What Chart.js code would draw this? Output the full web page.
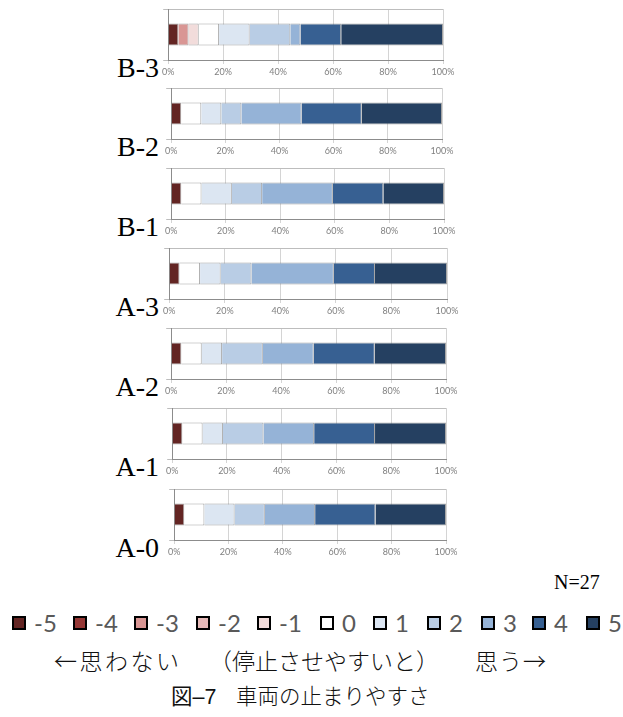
<!DOCTYPE html>
<html>
<head>
<meta charset="utf-8">
<script src="https://cdn.jsdelivr.net/npm/chart.js@4/dist/chart.umd.min.js"></script>
<style>
  html, body { margin: 0; padding: 0; background: #fff; }
  #page { position: relative; width: 623px; height: 717px; overflow: hidden; background: #fff; }
  .panel { position: absolute; }
  .plabel { position: absolute; font-family: "Liberation Serif", "Times New Roman", serif; font-size: 28px; line-height: 28px; color: #000; white-space: nowrap; text-align: right; }
  .note { position: absolute; font-family: "Liberation Serif", "Times New Roman", serif; font-size: 20px; line-height: 20px; color: #000; white-space: nowrap; }
  .lg-item { position: absolute; display: flex; align-items: center; height: 28px; white-space: nowrap; }
  .lg-box { width: 14px; height: 14px; box-sizing: border-box; border: 2px solid #000; margin-right: 8px; }
  .lg-text { font-family: Lato, "Liberation Sans", sans-serif; font-size: 24px; color: #595959; line-height: 28px; }
  .jp { position: absolute; font-family: "Noto Sans CJK JP", sans-serif; font-weight: 300; font-size: 23px; line-height: 26px; color: #111; white-space: nowrap; }
  .cap { position: absolute; font-family: "Noto Sans CJK JP", sans-serif; font-weight: 300; font-size: 21.5px; line-height: 24px; color: #111; white-space: nowrap; }
</style>
</head>
<body>
<div id="page"></div>
<script>
// Rating scale (-5 .. 5) and the fill used for each score
const scores = ['-5', '-4', '-3', '-2', '-1', '0', '1', '2', '3', '4', '5'];
const scoreColors = ['#632523', '#953735', '#d99694', '#e6b9b8', '#f2dcdb', '#ffffff',
                     '#dce6f2', '#b9cde5', '#95b3d7', '#376092', '#254061'];

// Test conditions, top to bottom
const conditions = ['B-3', 'B-2', 'B-1', 'A-3', 'A-2', 'A-1', 'A-0'];
const respondents = 27;

// Number of respondents giving each score (-5 .. 5) per condition
const countsB3 = [1, 0, 1, 0, 1, 2, 3, 4, 1, 4, 10];
const countsB2 = [1, 0, 0, 0, 0, 2, 2, 2, 6, 6, 8];
const countsB1 = [1, 0, 0, 0, 0, 2, 3, 3, 7, 5, 6];
const countsA3 = [1, 0, 0, 0, 0, 2, 2, 3, 8, 4, 7];
const countsA2 = [1, 0, 0, 0, 0, 2, 2, 4, 5, 6, 7];
const countsA1 = [1, 0, 0, 0, 0, 2, 2, 4, 5, 6, 7];
const countsA0 = [1, 0, 0, 0, 0, 2, 3, 3, 5, 6, 7];
const panelCounts = [countsB3, countsB2, countsB1, countsA3, countsA2, countsA1, countsA0];

// Percent axis ticks
const xTicks = [0, 20, 40, 60, 80, 100];

// Page layout of each small chart: plot left/right edge and x-axis line
const frames = [
  { left: 167, right: 443, axis: 60 },
  { left: 170, right: 442, axis: 139 },
  { left: 170, right: 444, axis: 219 },
  { left: 168, right: 447, axis: 299 },
  { left: 170, right: 446, axis: 379 },
  { left: 171, right: 446, axis: 459 },
  { left: 173, right: 446, axis: 540 }
];
const PLOT_H = 51, Y_AXIS_W = 8, X_AXIS_H = 22, PAD_T = 4, PAD_R = 18;

const page = document.getElementById('page');

conditions.forEach((name, p) => {
  const f = frames[p];
  const counts = panelCounts[p];
  const cv = document.createElement('canvas');
  const w = (f.right - f.left) + Y_AXIS_W + PAD_R;
  const h = PAD_T + PLOT_H + X_AXIS_H;
  cv.width = w; cv.height = h;
  cv.className = 'panel';
  cv.style.left = (f.left - Y_AXIS_W) + 'px';
  cv.style.top = (f.axis - PLOT_H - PAD_T) + 'px';
  cv.style.width = w + 'px'; cv.style.height = h + 'px';
  page.appendChild(cv);

  new Chart(cv, {
    type: 'bar',
    data: {
      labels: [name],
      datasets: scores.map((s, i) => ({
        label: s,
        data: [counts[i] / respondents * 100],
        backgroundColor: scoreColors[i],
        borderColor: 'rgba(90,90,90,0.55)',
        borderWidth: 1,
        barPercentage: 0.43,
        categoryPercentage: 1
      }))
    },
    options: {
      indexAxis: 'y',
      responsive: false,
      animation: false,
      devicePixelRatio: 1,
      layout: { padding: { left: 0, right: PAD_R, top: PAD_T, bottom: 0 } },
      plugins: { legend: { display: false }, tooltip: { enabled: false } },
      scales: {
        x: {
          type: 'linear', stacked: true, min: 0, max: 100,
          afterBuildTicks: s => { s.ticks = xTicks.map(v => ({ value: v })); },
          ticks: { callback: v => v + '%', font: { family: 'Lato', size: 9 }, color: '#808080',
                   padding: 3, maxRotation: 0, autoSkip: false },
          grid: { color: '#d4d4d4', tickLength: 4 },
          border: { color: '#8c8c8c' },
          afterFit: s => { s.height = X_AXIS_H; }
        },
        y: {
          type: 'category', stacked: true,
          ticks: { display: false },
          grid: { offset: true, color: '#bdbdbd', tickLength: 5 },
          border: { color: '#8c8c8c' },
          afterFit: s => { s.width = Y_AXIS_W; }
        }
      }
    }
  });

  const lb = document.createElement('div');
  lb.className = 'plabel';
  lb.textContent = name;
  lb.style.right = (623 - 159) + 'px';
  lb.style.top = (f.axis + 8 - 14) + 'px';
  page.appendChild(lb);
});

// Respondent count
const n = document.createElement('div');
n.className = 'note';
n.textContent = 'N=' + respondents;
n.style.left = '554px'; n.style.top = '572px';
page.appendChild(n);

// Shared legend for the score colours
const legendX = [12, 73, 134, 196, 257, 320, 373, 427, 481, 532, 586];
scores.forEach((s, i) => {
  const it = document.createElement('div');
  it.className = 'lg-item';
  it.style.left = legendX[i] + 'px';
  it.style.top = '609px';
  const b = document.createElement('div');
  b.className = 'lg-box';
  b.style.background = scoreColors[i];
  const t = document.createElement('span');
  t.className = 'lg-text';
  t.textContent = s;
  it.appendChild(b); it.appendChild(t);
  page.appendChild(it);
});

// Scale direction note and figure caption
[['←思わない', 54, 2.5], ['（停止させやすいと）', 209, 0], ['思う→', 475, 1]].forEach(([txt, x, ls]) => {
  const d = document.createElement('div');
  d.className = 'jp';
  d.textContent = txt;
  d.style.left = x + 'px'; d.style.top = '647px';
  d.style.letterSpacing = ls + 'px';
  page.appendChild(d);
});
const c1 = document.createElement('div');
c1.className = 'cap';
c1.innerHTML = '<b>図</b><b style="font-family:\'Liberation Sans\',sans-serif">–7</b>';
c1.style.left = '171px'; c1.style.top = '683px';
page.appendChild(c1);
const c2 = document.createElement('div');
c2.className = 'cap';
c2.textContent = '車両の止まりやすさ';
c2.style.left = '236px'; c2.style.top = '683px';
page.appendChild(c2);
</script>
</body>
</html>
